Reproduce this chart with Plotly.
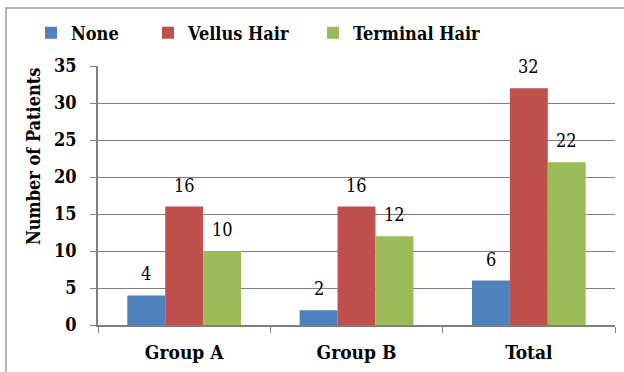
import plotly.graph_objects as go

categories = ["Group A", "Group B", "Total"]
series_names = ["None", "Vellus Hair", "Terminal Hair"]
none_vals = [4, 2, 6]
vellus_vals = [16, 16, 32]
terminal_vals = [10, 12, 22]
colors = ["#4F81BD", "#C0504D", "#9BBB59"]
y_ticks = [0, 5, 10, 15, 20, 25, 30, 35]

SERIF = "DejaVu Serif Condensed, DejaVu Serif"
W, H = 624, 372
L, R, T, B = 98, 9, 66, 47
plot_w = W - L - R
plot_h = H - T - B


def serif_font(size, bold=True):
    return dict(family=SERIF, size=size, color="black",
                weight="bold" if bold else "normal")


fig = go.Figure()
all_vals = [none_vals, vellus_vals, terminal_vals]
legend_ids = ["legend", "legend2", "legend3"]
for name, vals, col, lg in zip(series_names, all_vals, colors, legend_ids):
    fig.add_trace(go.Bar(
        x=categories, y=vals, name=name, marker_color=col,
        marker_line_width=0, legend=lg,
    ))

# value labels above each bar
bargap = 0.34
bar_px = plot_w / len(categories) * (1 - bargap) / 3
for i, vals in enumerate(all_vals):
    for cat, v in zip(categories, vals):
        fig.add_annotation(
            x=cat, y=v, xref="x", yref="y", text=str(v), showarrow=False,
            xshift=(i - 1) * bar_px, yshift=9, yanchor="bottom",
            font=serif_font(18, bold=False),
        )

# vertical y-axis title, set a little above the plot's middle
fig.add_annotation(
    text="Number of Patients", textangle=-90, showarrow=False,
    xref="paper", yref="paper",
    x=(33 - L) / plot_w, y=(H - B - 157) / plot_h,
    xanchor="center", yanchor="middle",
    font=serif_font(18),
)

# outer chart border
fig.add_shape(
    type="rect", xref="paper", yref="paper",
    x0=(6 - L) / plot_w, x1=(640 - L) / plot_w,
    y0=(H - B - 390) / plot_h, y1=(H - B - 8) / plot_h,
    line=dict(color="#9a9a9a", width=1.5), fillcolor="rgba(0,0,0,0)", layer="below",
)

legend_x = [71, 188, 353]
legend_common = dict(
    orientation="h", yanchor="middle", xanchor="left", y=(H - B - 33) / plot_h,
    font=serif_font(18),
    bgcolor="rgba(0,0,0,0)", itemwidth=30, tracegroupgap=0,
)
layout_legends = {}
for lg, px in zip(legend_ids, legend_x):
    layout_legends[lg] = dict(legend_common, x=(px - 40 - L) / plot_w)

fig.update_layout(
    width=W, height=H,
    margin=dict(l=L, r=R, t=T, b=B),
    paper_bgcolor="white", plot_bgcolor="white",
    font=dict(family=SERIF),
    barmode="group", bargap=bargap, bargroupgap=0,
    showlegend=True,
    **layout_legends,
    xaxis=dict(
        showline=True, linecolor="#7f7f7f", linewidth=1.5,
        ticks="outside", tickson="boundaries", ticklen=6, tickcolor="#7f7f7f",
        tickfont=serif_font(19),
        ticklabelstandoff=9,
    ),
    yaxis=dict(
        range=[0, 35], tickvals=y_ticks, showgrid=True, gridcolor="#7f7f7f", gridwidth=1,
        showline=True, linecolor="#7f7f7f", linewidth=1.5,
        ticks="outside", ticklen=6, tickcolor="#7f7f7f",
        tickfont=serif_font(18),
        ticklabelstandoff=10, zeroline=False,
    ),
)

fig.write_html("out.html")
